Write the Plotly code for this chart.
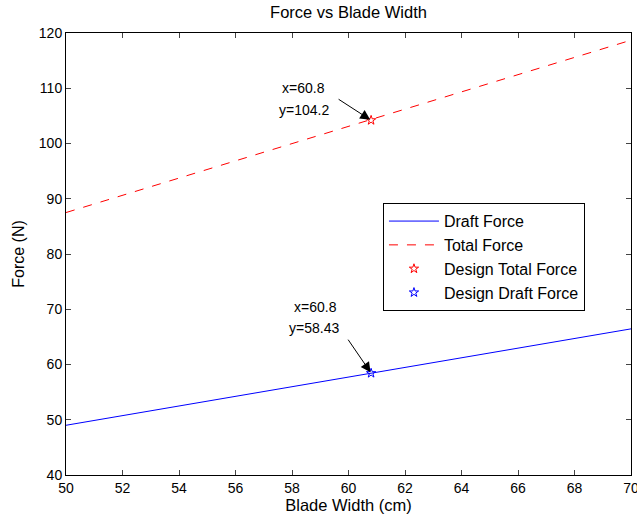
import plotly.graph_objects as go

blade_width = [50, 70]
draft_force = [49.0, 66.45]
total_force = [87.5, 118.7]
design_x = [60.8]
design_draft = [58.43]
design_total = [104.2]
x_ticks = [50, 52, 54, 56, 58, 60, 62, 64, 66, 68, 70]
y_ticks = [40, 50, 60, 70, 80, 90, 100, 110, 120]

fnt = "Liberation Sans, Arial, sans-serif"

fig = go.Figure()
fig.add_trace(go.Scatter(x=blade_width, y=draft_force, mode="lines", name="Draft Force",
                         line=dict(color="#0000ff", width=1)))
fig.add_trace(go.Scatter(x=blade_width, y=total_force, mode="lines", name="Total Force",
                         line=dict(color="#ff0000", width=1, dash="dash")))
fig.add_trace(go.Scatter(x=design_x, y=design_total, mode="markers", name="Design Total Force",
                         marker=dict(symbol="star-open", color="#ff0000", size=7, line=dict(width=1))))
fig.add_trace(go.Scatter(x=design_x, y=design_draft, mode="markers", name="Design Draft Force",
                         marker=dict(symbol="star-open", color="#0000ff", size=7, line=dict(width=1))))

# arrows
fig.add_annotation(x=design_x[0], y=design_total[0], text="", showarrow=True,
                   ax=-34, ay=-22, arrowhead=2, arrowsize=2, arrowwidth=1, arrowcolor="black",
                   standoff=1)
fig.add_annotation(x=design_x[0], y=design_draft[0], text="", showarrow=True,
                   ax=-24, ay=-35, arrowhead=2, arrowsize=2, arrowwidth=1, arrowcolor="black",
                   standoff=1)
# data tip labels (one annotation per line to control spacing)
for txt, xs, ys in [(f"x={design_x[0]}", -68, 32), (f"y={design_total[0]}", -67, 10)]:
    fig.add_annotation(x=design_x[0], y=design_total[0], text=txt, showarrow=False,
                       xshift=xs, yshift=ys, font=dict(family=fnt, size=14, color="black"))
for txt, xs, ys in [(f"x={design_x[0]}", -56, 66), (f"y={design_draft[0]}", -57, 45)]:
    fig.add_annotation(x=design_x[0], y=design_draft[0], text=txt, showarrow=False,
                       xshift=xs, yshift=ys, font=dict(family=fnt, size=14, color="black"))

fig.update_layout(
    width=637, height=525,
    paper_bgcolor="white", plot_bgcolor="white",
    margin=dict(l=66, r=6, t=33, b=50, autoexpand=False),
    font=dict(family=fnt, size=14, color="black"),
    title=dict(text="Force vs Blade Width", x=0.5, xref="paper", y=1, yref="container",
               yanchor="top", pad=dict(t=6), font=dict(family=fnt, size=16.5, color="black")),
    showlegend=True,
    legend=dict(x=0.561, y=0.615, xanchor="left", yanchor="top", bgcolor="white",
                bordercolor="black", borderwidth=1, font=dict(family=fnt, size=16),
                tracegroupgap=0, itemwidth=50),
    xaxis=dict(range=[50, 70], tickvals=x_ticks, ticks="inside", ticklen=5, mirror="ticks",
               showline=True, linecolor="black", linewidth=1, showgrid=False, zeroline=False,
               automargin=False, ticklabeloverflow="allow",
               title=dict(text="Blade Width (cm)", standoff=2, font=dict(size=16.5)),
               tickfont=dict(size=14)),
    yaxis=dict(range=[40, 120], tickvals=y_ticks, ticks="inside", ticklen=5, mirror="ticks",
               showline=True, linecolor="black", linewidth=1, showgrid=False, zeroline=False,
               automargin=False, ticklabeloverflow="allow",
               title=dict(text="Force (N)", standoff=10, font=dict(size=16)),
               tickfont=dict(size=14)),
)

fig.write_html("out.html", config={"displayModeBar": False},
               post_script="document.body.style.margin='0';")
